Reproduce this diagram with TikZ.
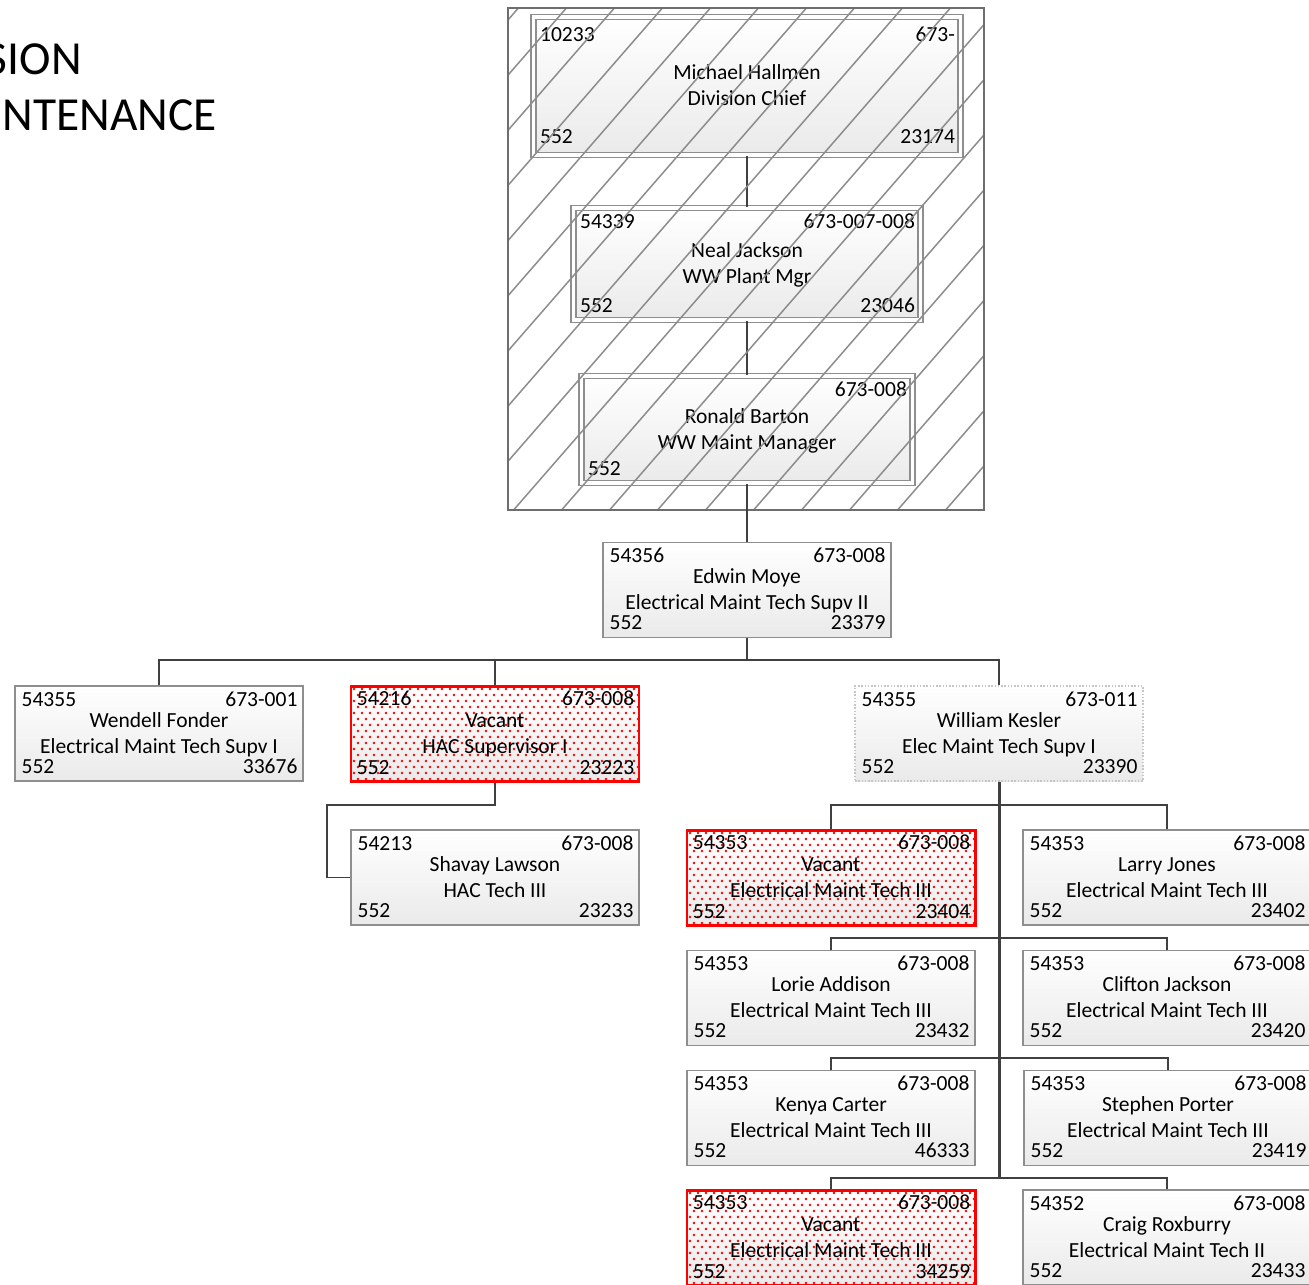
\documentclass[tikz,border=0pt]{standalone}
\usepackage{fontspec}
\setmainfont{Carlito}

\definecolor{boxline}{HTML}{8E8E8E}
\definecolor{boxfade}{HTML}{EAEAEA}
\definecolor{linkgray}{HTML}{404040}
\definecolor{hatchgray}{HTML}{8C8C8C}
\definecolor{framegray}{HTML}{6E6E6E}
\definecolor{vacantred}{HTML}{FF0000}

\newcommand{\px}{0.02cm}

\tikzset{
  corner drop/.initial=21,
  corner rise/.initial=8.5,
  orgbox/.style={draw=boxline, line width=0.85pt, top color=white, bottom color=boxfade,
    minimum width=288*\px, minimum height=95*\px, inner sep=0pt},
  headbox/.style={orgbox, double=white, double distance=2pt},
  vacantbox/.style={orgbox, draw=vacantred, line width=1.7pt,
    path picture={
      \foreach \row in {0,...,16}
        \foreach \col in {0,...,36}
          \fill[vacantred] ([xshift={(8*\col+4*mod(\row,2)+3)*\px}, yshift={-(6*\row+3)*\px}]path picture bounding box.north west)
            circle[radius=1.45*\px];
    }},
  actingbox/.style={orgbox, draw=gray!45, densely dotted},
  boxtext/.style={inner sep=0pt, font=\fontsize{12.25}{14}\selectfont},
  titletext/.style={inner sep=0pt, font=\fontsize{27}{32}\selectfont},
  link/.style={draw=linkgray, line width=1.1pt},
  trunk/.style={link, line width=1.7pt},
  hatch/.style={draw=hatchgray, line width=0.85pt},
}

% one position: box, four corner numbers, name and title
\newcommand{\staffbox}[9][]{%
  \node[orgbox,#1] (#2) at (#3) {};
  \node[boxtext, anchor=base west] (#2-tl) at ([xshift=7*\px,yshift=-\pgfkeysvalueof{/tikz/corner drop}*\px]#2.north west) {#4};
  \node[boxtext, anchor=base east] (#2-tr) at ([xshift=-6*\px,yshift=-\pgfkeysvalueof{/tikz/corner drop}*\px]#2.north east) {#5};
  \node[boxtext, anchor=base] (#2-name) at ([yshift=6.5*\px]#2.center) {#6};
  \node[boxtext, anchor=base] (#2-job) at ([yshift=-19.5*\px]#2.center) {#7};
  \node[boxtext, anchor=base west] (#2-bl) at ([xshift=7*\px,yshift=\pgfkeysvalueof{/tikz/corner rise}*\px]#2.south west) {#8};
  \node[boxtext, anchor=base east] (#2-br) at ([xshift=-6*\px,yshift=\pgfkeysvalueof{/tikz/corner rise}*\px]#2.south east) {#9};
}

\begin{document}
\begin{tikzpicture}[x=\px, y=-\px]
  \useasboundingbox (0,0) rectangle (1309,1285);

  \node[titletext, anchor=base east] (div) at (82,74) {SION};
  \node[titletext, anchor=base east] (maint) at (217,130) {NTENANCE};

  % management chain in the hatched frame
  \begin{scope}[corner drop=25, corner rise=12.5]
    \staffbox[headbox, minimum width=427*\px, minimum height=138*\px]{chief}{747,86}
      {10233}{673-}{Michael Hallmen}{Division Chief}{552}{23174}
  \end{scope}
  \staffbox[headbox, minimum width=347*\px, minimum height=112*\px]{plantmgr}{747,264}
    {54339}{673-007-008}{Neal Jackson}{WW Plant Mgr}{552}{23046}
  \staffbox[headbox, minimum width=331*\px, minimum height=107*\px]{maintmgr}{747,429.5}
    {}{673-008}{Ronald Barton}{WW Maint Manager}{552}{}
  \draw[link] (chief.south) -- (plantmgr.north);
  \draw[link] (plantmgr.south) -- (maintmgr.north);

  \begin{scope}
    \clip (508,8) rectangle (984,510);
    \foreach \k in {-3,...,15}
      \draw[hatch] ({225.6+48*\k},510) -- ({662.4+48*\k},8);
  \end{scope}
  \draw[framegray, line width=1.4pt] (508,8) rectangle (984,510);

  \staffbox{moye}{747,590}
    {54356}{673-008}{Edwin Moye}{Electrical Maint Tech Supv II}{552}{23379}
  \draw[link] (maintmgr.south) -- (moye.north);

  % supervisors
  \staffbox{fonder}{159,733.5}
    {54355}{673-001}{Wendell Fonder}{Electrical Maint Tech Supv I}{552}{33676}
  \staffbox[vacantbox]{hacsup}{495,733.5}
    {54216}{673-008}{Vacant}{HAC Supervisor I}{552}{23223}
  \staffbox[actingbox]{kesler}{999,733.5}
    {54355}{673-011}{William Kesler}{Elec Maint Tech Supv I}{552}{23390}
  \coordinate (bus0) at (747,660);
  \draw[link] (moye.south) -- (bus0);
  \draw[link] (fonder.north) |- (bus0) -| (kesler.north);
  \draw[link] (hacsup.north) -- (hacsup.north |- bus0);

  \staffbox{lawson}{495,877.5}
    {54213}{673-008}{Shavay Lawson}{HAC Tech III}{552}{23233}
  \coordinate (hacbend) at (327,805);
  \draw[link] (hacsup.south) |- (hacbend) |- (lawson.west);

  % technicians under Kesler
  \staffbox[vacantbox]{vacant1}{831,877.5}
    {54353}{673-008}{Vacant}{Electrical Maint Tech III}{552}{23404}
  \staffbox{jones}{1167,877.5}
    {54353}{673-008}{Larry Jones}{Electrical Maint Tech III}{552}{23402}
  \staffbox{addison}{831,998}
    {54353}{673-008}{Lorie Addison}{Electrical Maint Tech III}{552}{23432}
  \staffbox{cjackson}{1167,998}
    {54353}{673-008}{Clifton Jackson}{Electrical Maint Tech III}{552}{23420}
  \staffbox{carter}{831,1118}
    {54353}{673-008}{Kenya Carter}{Electrical Maint Tech III}{552}{46333}
  \staffbox{porter}{1168,1118}
    {54353}{673-008}{Stephen Porter}{Electrical Maint Tech III}{552}{23419}
  \staffbox[vacantbox]{vacant2}{831,1237.5}
    {54353}{673-008}{Vacant}{Electrical Maint Tech III}{552}{34259}
  \staffbox{roxburry}{1167,1237.5}
    {54352}{673-008}{Craig Roxburry}{Electrical Maint Tech II}{552}{23433}

  \coordinate (bus1) at (999,805);
  \coordinate (bus2) at (999,938);
  \coordinate (bus3) at (999,1058);
  \coordinate (bus4) at (999,1178);
  \draw[trunk] (kesler.south) -- (bus4);
  \draw[link] (vacant1.north) |- (bus1) -| (jones.north);
  \draw[link] (addison.north) |- (bus2) -| (cjackson.north);
  \draw[link] (carter.north) |- (bus3) -| (porter.north);
  \draw[link] (vacant2.north) |- (bus4) -| (roxburry.north);
\end{tikzpicture}
\end{document}
